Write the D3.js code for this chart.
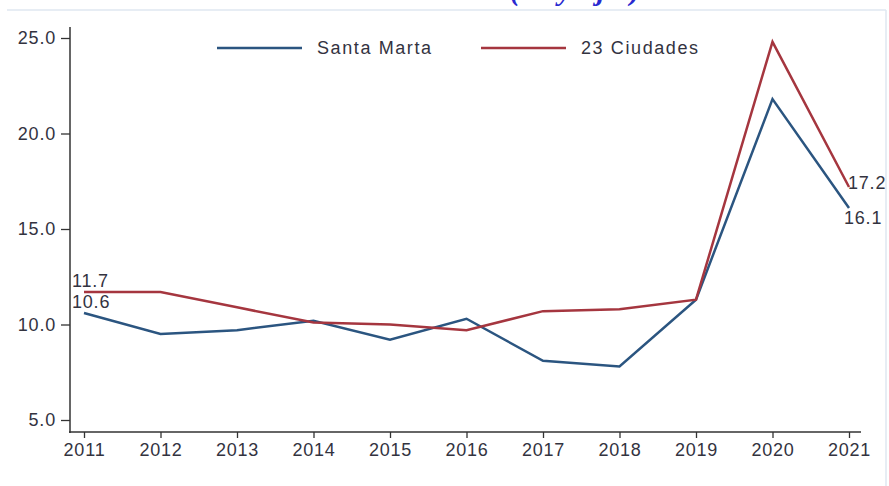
<!DOCTYPE html>
<html>
<head>
<meta charset="utf-8">
<script src="https://unpkg.com/d3@7/dist/d3.min.js"></script>
<style>
  body { margin: 0; background: #fff; }
  svg { display: block; font-family: "Liberation Sans", Arial, sans-serif; }
</style>
</head>
<body>
<script>
// data
const years = [2011, 2012, 2013, 2014, 2015, 2016, 2017, 2018, 2019, 2020, 2021];
const santaMarta = [10.6, 9.5, 9.7, 10.2, 9.2, 10.3, 8.1, 7.8, 11.3, 21.8, 16.1];
const ciudades = [11.7, 11.7, 10.9, 10.1, 10.0, 9.7, 10.7, 10.8, 11.3, 24.8, 17.2];
const yTicks = [5, 10, 15, 20, 25];
const seriesNames = ["Santa Marta", "23 Ciudades"];
const seriesColors = ["#2b5580", "#a5363f"];

// layout
const width = 889;
const height = 486;
const textColor = "#33333f";

const svg = d3.select("body").append("svg")
  .attr("width", width)
  .attr("height", height);

// frame lines of the source slide
svg.append("line").attr("x1", 7).attr("x2", 886).attr("y1", 10).attr("y2", 10)
  .attr("stroke", "#dfe7f0").attr("stroke-width", 1.5);
svg.append("line").attr("x1", 886).attr("x2", 886).attr("y1", 10).attr("y2", height)
  .attr("stroke", "#dfe7f0").attr("stroke-width", 1.5);

// title, cut off at the top like in the source
svg.append("text")
  .attr("x", 575).attr("y", 0)
  .attr("text-anchor", "middle")
  .attr("fill", "#2a2ad0")
  .style("font-family", "'Liberation Serif', serif")
  .style("font-style", "italic")
  .style("font-weight", "bold")
  .style("font-size", "30px")
  .text("(may - jul)");

const x = d3.scaleLinear().domain([2011, 2021]).range([84, 849]);
const y = d3.scaleLinear().domain([5, 25]).range([420, 38]);

// axes
const yAxis = d3.axisLeft(y).tickValues(yTicks).tickSize(9).tickPadding(5)
  .tickFormat(d3.format(".1f"));
const gy = svg.append("g").attr("transform", "translate(70,0)").call(yAxis);
gy.select(".domain").remove();
gy.append("line").attr("x1", 0).attr("x2", 0).attr("y1", 27).attr("y2", 433)
  .attr("stroke", "#333").attr("stroke-width", 1.5);

const xAxis = d3.axisBottom(x).tickValues(years).tickSize(6).tickPadding(5)
  .tickFormat(d3.format("d"));
const gx = svg.append("g").attr("transform", "translate(0,432)").call(xAxis);
gx.select(".domain").remove();
gx.append("line").attr("x1", 69).attr("x2", 861).attr("y1", 0).attr("y2", 0)
  .attr("stroke", "#333").attr("stroke-width", 1.5);

[gx, gy].forEach((g) => {
  g.selectAll(".tick line").attr("stroke", "#333").attr("stroke-width", 1.3);
  g.selectAll(".tick text")
    .attr("fill", textColor)
    .style("font-size", "18px")
    .style("letter-spacing", "0.8px");
});

// lines
const line = d3.line()
  .x((d, i) => x(years[i]))
  .y((d) => y(d));

[santaMarta, ciudades].forEach((series, k) => {
  svg.append("path")
    .datum(series)
    .attr("fill", "none")
    .attr("stroke", seriesColors[k])
    .attr("stroke-width", 2.5)
    .attr("stroke-linejoin", "miter")
    .attr("d", line);
});

// end labels
const last = years.length - 1;
const labels = [
  { v: ciudades[0], x: x(years[0]) - 12, y: y(ciudades[0]) - 5 },
  { v: santaMarta[0], x: x(years[0]) - 12, y: y(santaMarta[0]) - 5 },
  { v: ciudades[last], x: x(years[last]) - 1, y: y(ciudades[last]) + 2 },
  { v: santaMarta[last], x: x(years[last]) - 5, y: y(santaMarta[last]) + 16 },
];
svg.append("g").selectAll("text")
  .data(labels)
  .enter()
  .append("text")
  .attr("x", (d) => d.x)
  .attr("y", (d) => d.y)
  .attr("fill", textColor)
  .style("font-size", "18px")
  .style("letter-spacing", "0.8px")
  .text((d) => d.v.toFixed(1));

// legend
const legendX = [217, 481];
const legend = svg.append("g");
seriesNames.forEach((name, k) => {
  legend.append("line")
    .attr("x1", legendX[k]).attr("x2", legendX[k] + 85)
    .attr("y1", 48).attr("y2", 48)
    .attr("stroke", seriesColors[k]).attr("stroke-width", 2.5);
  legend.append("text")
    .attr("x", legendX[k] + 100).attr("y", 54)
    .attr("fill", textColor)
    .style("font-size", "18px")
    .style("letter-spacing", "1.6px")
    .text(name);
});
</script>
</body>
</html>
